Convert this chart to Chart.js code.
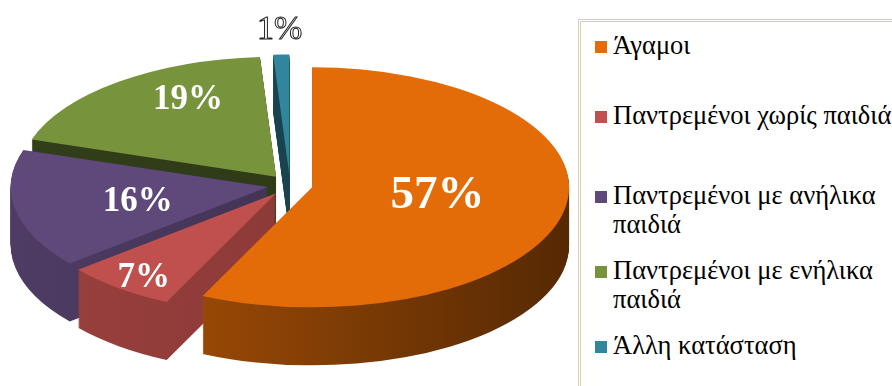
<!DOCTYPE html>
<html lang="el">
<head>
<meta charset="utf-8">
<title>Οικογενειακή κατάσταση</title>
<script src="https://cdn.jsdelivr.net/npm/chart.js@4/dist/chart.umd.min.js"></script>
<style>
  html, body { margin: 0; padding: 0; background: #fff; overflow: hidden; }
  #wrap { position: relative; width: 892px; height: 386px; }
  #pie { position: absolute; left: 0; top: 0; }
  #legend {
    position: absolute; left: 578px; top: 19px; width: 400px; height: 400px;
    border: 3px double #d6d0aa; box-sizing: border-box;
    font-family: "Liberation Serif", "Times New Roman", serif; font-size: 26.5px;
    color: #000; padding: 9px 0 0 14px;
  }
  .item { display: flex; align-items: flex-start; height: 75px; }
  .item:nth-child(1) { height: 70px; }
  .item:nth-child(2) { height: 80px; }
  .item .box { flex: none; width: 12px; height: 12px; margin-top: 10px; margin-right: 6px; }
  .item .txt { width: 300px; line-height: 29px; }
</style>
</head>
<body>
<div id="wrap">
  <canvas id="pie" width="578" height="386"></canvas>
  <div id="legend"></div>
</div>
<script>
const labels = ['Άγαμοι', 'Παντρεμένοι χωρίς παιδιά', 'Παντρεμένοι με ανήλικα παιδιά', 'Παντρεμένοι με ενήλικα παιδιά', 'Άλλη κατάσταση'];
const values = [57, 7, 16, 19, 1];
const colors = ['#e36c09', '#c0504d', '#5f497a', '#77933c', '#31859c'];

// darken a hex colour by factor f
function shade(hex, f) {
  const n = parseInt(hex.slice(1), 16);
  const r = Math.round(((n >> 16) & 255) * f);
  const g = Math.round(((n >> 8) & 255) * f);
  const b = Math.round((n & 255) * f);
  return `rgb(${r},${g},${b})`;
}

// squash the pie into an ellipse
function tilt(ctx, arc, o) {
  ctx.translate(o.cx, o.cy);
  ctx.scale(o.rx / arc.outerRadius, o.ry / arc.outerRadius);
  ctx.translate(-arc.x, -arc.y);
}

// draw one slice pulled out along its bisector, optionally with another fill
function drawSlice(ctx, arc, pull, fill) {
  const mid = (arc.startAngle + arc.endAngle) / 2;
  ctx.save();
  ctx.translate(Math.cos(mid) * pull, Math.sin(mid) * pull);
  if (fill) {
    const piece = Object.create(arc);
    piece.options = Object.assign({}, arc.options, { backgroundColor: fill, borderWidth: 0 });
    piece.draw(ctx);
  } else {
    arc.draw(ctx);
  }
  ctx.restore();
}

const pie3d = {
  id: 'pie3d',
  beforeDatasetsDraw(chart, args, o) {
    const ctx = chart.ctx;
    const arcs = chart.getDatasetMeta(0).data;
    const first = arcs[0];
    const R = first.outerRadius;
    // walls: stack darker copies downward, deepest first
    for (let k = o.depth; k >= 1; k--) {
      ctx.save();
      ctx.translate(0, k);
      tilt(ctx, first, o);
      arcs.forEach((arc, i) => {
        const [light, dark] = o.wallShade[i];
        const grad = ctx.createLinearGradient(arc.x - R, 0, arc.x + R, 0);
        grad.addColorStop(0, shade(colors[i], light));
        grad.addColorStop(1, shade(colors[i], dark));
        drawSlice(ctx, arc, o.explode[i], grad);
      });
      ctx.restore();
    }
    // top faces
    ctx.save();
    tilt(ctx, first, o);
    arcs.forEach((arc, i) => drawSlice(ctx, arc, o.explode[i]));
    ctx.restore();
    return false;
  },
  afterDraw(chart, args, o) {
    const ctx = chart.ctx;
    const arcs = chart.getDatasetMeta(0).data;
    const R = arcs[0].outerRadius;
    const sx = o.rx / R, sy = o.ry / R;
    ctx.save();
    ctx.textAlign = 'center';
    ctx.textBaseline = 'middle';
    arcs.forEach((arc, i) => {
      const mid = (arc.startAngle + arc.endAngle) / 2;
      const [fx, fy] = o.labelRadius[i];
      const e = o.explode[i];
      const x = o.cx + Math.cos(mid) * (e + R * fx) * sx;
      const y = o.cy + Math.sin(mid) * (e + R * fy) * sy;
      const text = values[i] + '%';
      if (fx > 1) {
        // outside label: hollow text
        ctx.font = `${o.labelSize[i]}px "Liberation Serif", "Times New Roman", serif`;
        ctx.fillStyle = '#fff';
        ctx.fillText(text, x, y);
        ctx.strokeStyle = '#222';
        ctx.lineWidth = 1;
        ctx.strokeText(text, x, y);
      } else {
        ctx.font = `bold ${o.labelSize[i]}px "Liberation Serif", "Times New Roman", serif`;
        ctx.fillStyle = '#fff';
        ctx.fillText(text, x, y);
      }
    });
    ctx.restore();
  }
};

const chart = new Chart(document.getElementById('pie'), {
  type: 'pie',
  data: {
    labels: labels,
    datasets: [{
      data: values,
      backgroundColor: colors,
      borderWidth: 0
    }]
  },
  options: {
    responsive: false,
    animation: false,
    layout: { padding: 0 },
    plugins: {
      legend: { display: false },
      tooltip: { enabled: false },
      pie3d: {
        cx: 290, cy: 185, rx: 257, ry: 120, depth: 58,
        explode: [17, 17, 17, 17, 17],
        wallShade: [[0.78, 0.38], [0.8, 0.66], [0.82, 0.6], [0.42, 0.38], [0.6, 0.4]],
        labelRadius: [[0.5, 0.31], [0.84, 0.89], [0.515, 0.67], [0.56, 0.81], [1.2, 1.2]],
        labelSize: [47, 35, 35, 35, 34]
      }
    }
  },
  plugins: [pie3d]
});

// legend on the right
const legend = document.getElementById('legend');
labels.forEach((name, i) => {
  const row = document.createElement('div');
  row.className = 'item';
  row.innerHTML = `<span class="box" style="background:${colors[i]}"></span><span class="txt">${name}</span>`;
  legend.appendChild(row);
});
</script>
</body>
</html>
